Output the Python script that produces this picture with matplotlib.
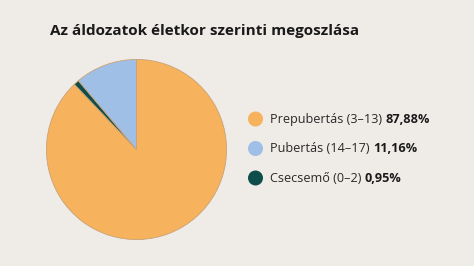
import matplotlib
matplotlib.use("Agg")
import matplotlib.pyplot as plt
from matplotlib.patches import Circle

title = "Az áldozatok életkor szerinti megoszlása"
labels = ["Prepubertás (3–13)", "Pubertás (14–17)", "Csecsemő (0–2)"]
values = [87.88, 11.16, 0.95]
value_labels = ["87,88%", "11,16%", "0,95%"]
colors = ["#f6b25c", "#a0bfe6", "#0e4d4a"]

# pie drawing order (clockwise from top): Prepubertás, Csecsemő, Pubertás
pie_order = [0, 2, 1]

W, H = 474, 266
fig = plt.figure(figsize=(W / 100, H / 100), dpi=100)
bg = "#efebe7"
fig.patch.set_facecolor(bg)
plt.rcParams['font.family'] = ['Open Sans', 'DejaVu Sans']

cx, cy, r = 136.5, 149.5, 90.5
ax = fig.add_axes([(cx - r) / W, (H - cy - r) / H, 2 * r / W, 2 * r / H])
ax.set_facecolor(bg)
ax.pie([values[i] for i in pie_order], colors=[colors[i] for i in pie_order],
       startangle=90, counterclock=False,
       wedgeprops=dict(edgecolor="#c9a276", linewidth=0.6))
ax.set_xlim(-1.005, 1.005)
ax.set_ylim(-1.005, 1.005)
ax.set_aspect("equal")
ax.axis("off")

fig.text(50 / W, 1 - 31 / H, title, fontsize=11.0, fontweight="bold",
         color="#1a1a1a", va="center", ha="left")

ys = [119, 148.5, 178]
for lab, val, col, y in zip(labels, value_labels, colors, ys):
    circ = Circle((255.5, H - y), 7.5, transform=None, facecolor=col,
                  edgecolor="none")
    fig.patches.append(circ)
    t = fig.text(270 / W, 1 - y / H, lab + " ", fontsize=9.1, color="#2a2a2a",
                 va="center", ha="left")
    fig.canvas.draw()
    bb = t.get_window_extent()
    fig.text(bb.x1 / W, 1 - y / H, val, fontsize=9.1, fontweight="bold",
             color="#1a1a1a", va="center", ha="left")

fig.savefig("out.png", dpi=100, facecolor=bg)
